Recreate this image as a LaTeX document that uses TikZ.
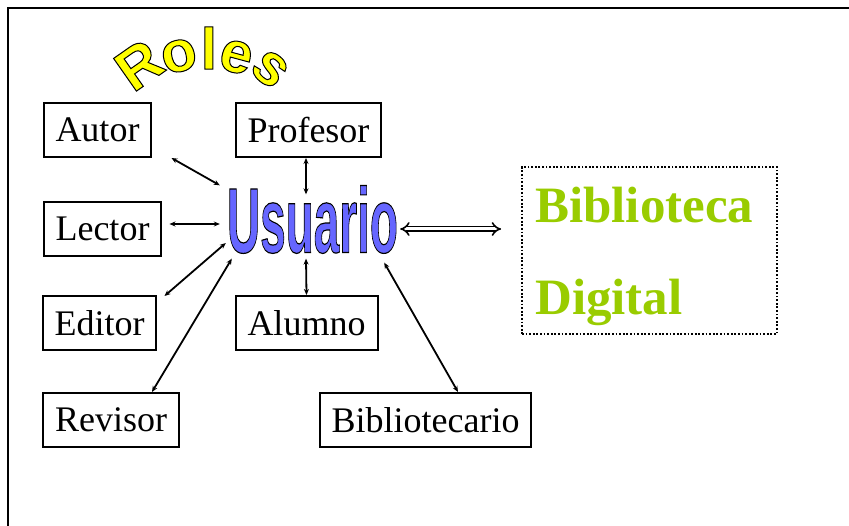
\documentclass[tikz,border=0pt]{standalone}
\usepackage{fontspec}
\setmainfont{Liberation Serif}
\newfontfamily\wordartfont{Liberation Sans}
\usepackage{graphicx}
\usetikzlibrary{arrows.meta, positioning}
\definecolor{usuario-blue}{HTML}{6666FF}
\definecolor{bib-green}{HTML}{99CC00}
\definecolor{roles-yellow}{HTML}{FFFF00}
% filled text with a black stroke round it
\newcommand{\outlined}[3]{%  \outlined{fill colour}{stroke width}{text}
  \textcolor{#1}{\special{pdf:literal direct 2 Tr #2 w 0 G}#3\special{pdf:literal direct 0 Tr}}}
\newcommand{\roleletter}[4]{%  \roleletter{x}{y}{angle}{letter}
  \node[rotate=#3, inner sep=0pt] (roles-#4) at (#1,#2)
    {\wordartfont\bfseries\fontsize{58}{58}\selectfont\outlined{roles-yellow}{1}{#4}};}

\begin{document}
\begin{tikzpicture}[x=1pt, y=1pt,
    rolebox/.style={draw, line width=2pt, minimum height=54pt, inner xsep=12pt,
      font=\fontsize{36}{36}\selectfont},
    link/.style={<->, line width=1.8pt, >={Stealth[length=6pt, width=5pt]}},
    dblarrow/.style={double, double distance=3pt, line width=1.6pt, {Implies}-{Implies}}]
  \useasboundingbox (0,0) rectangle (849,525);
  % frame
  \draw[line width=1.8pt] (8,-5) -- (8,517) -- (856,517);
  % Roles
  \roleletter{139}{460}{35}{R}
  \roleletter{179}{469}{15}{o}
  \roleletter{209}{477}{0}{l}
  \roleletter{236}{468}{-15}{e}
  \roleletter{270}{456}{-40}{s}
  % roles boxes
  \node[rolebox] (autor) at (97.5,395) {Autor};
  \node[rolebox] (profesor) at (308.5,395) {Profesor};
  \node[rolebox] (lector) at (102.5,296) {Lector};
  \node[rolebox] (editor) at (99.5,202) {Editor};
  \node[rolebox] (alumno) at (306.5,202) {Alumno};
  \node[rolebox] (revisor) at (111,105) {Revisor};
  \node[rolebox] (bibliotecario) at (425.5,105) {Bibliotecario};
  % Usuario
  \node[inner sep=0pt] (usuario) at (312.5,305.5)
    {\resizebox{171pt}{67pt}{\wordartfont\bfseries\fontsize{94}{94}\selectfont\outlined{usuario-blue}{1.2}{Usuario}}};
  % Biblioteca Digital
  \node[draw, line width=1.8pt, dash pattern=on 1.8pt off 1.8pt,
    minimum width=255pt, minimum height=167pt] (bibdig) at (649.5,274.5) {};
  \node[anchor=base west, inner sep=0pt, text=bib-green,
    font=\bfseries\fontsize{51}{51}\selectfont] (biblioteca) at (535,302) {Biblioteca};
  \node[anchor=base west, inner sep=0pt, text=bib-green,
    font=\bfseries\fontsize{51}{51}\selectfont] (digital) at (535,210) {Digital};
  % links
  \draw[link] ([xshift=19pt]autor.south east) -- ([xshift=-7pt]usuario.north west);
  \draw[link] ([shift={(7pt,5pt)}]lector.east) -- ([shift={(-7pt,-4.5pt)}]usuario.west);
  \draw[link] ([shift={(7pt,-1pt)}]editor.north east) -- ([shift={(-1pt,-23.5pt)}]usuario.west);
  \draw[link] ([xshift=-28pt]revisor.north east) -- ([shift={(5pt,-5pt)}]usuario.south west);
  \draw[link] ([xshift=-2.5pt]profesor.south) -- ([shift={(-6.5pt,-9pt)}]usuario.north);
  \draw[link] (alumno.north) -- ([shift={(-6.5pt,-5pt)}]usuario.south);
  \draw[link] ([xshift=32.5pt]bibliotecario.north) -- ([shift={(-14pt,-9pt)}]usuario.south east);
  \draw[dblarrow] ([shift={(2pt,-9.5pt)}]usuario.east) -- ([shift={(-20pt,21.5pt)}]bibdig.west);
\end{tikzpicture}
\end{document}
